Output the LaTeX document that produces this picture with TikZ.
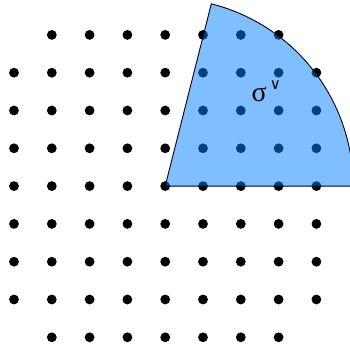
\documentclass[tikz,border=0pt]{standalone}
\usepackage{fontspec}
\setmainfont{Liberation Serif}
\newfontfamily\symfont{DejaVu Sans}
\definecolor{conefill}{RGB}{0,127,255}
\tikzset{
  latticept/.style={fill=black},
  cone/.style={fill=conefill, fill opacity=0.5, draw=black, line width=0.9pt, draw opacity=1},
  lbl/.style={inner sep=0pt, anchor=base west}
}
\begin{document}
\begin{tikzpicture}[x=1pt,y=1pt]
\useasboundingbox (0,0) rectangle (350,347);
\clip (0,0) rectangle (350,347);
\foreach \i in {0,...,8}{
  \foreach \j in {0,...,8}{
    \pgfmathtruncatemacro{\corner}{((\i==0)||(\i==8))&&((\j==0)||(\j==8)) ? 1 : 0}
    \ifnum\corner=0
      \fill[latticept] ({14+37.8*\i},{9.7+37.8*\j}) circle (4.9);
    \fi
  }
}
\coordinate (v) at (165.2,160.9);
\path[cone] (v) -- ++(0:188) arc[start angle=0, end angle=75.8, radius=188] -- cycle;
\node[lbl] (sig) at (251.5,245.3) {\fontsize{28}{30}\selectfont σ\hspace{3pt}\raisebox{12pt}{\symfont\fontsize{15}{15}\selectfont ∨}};
\end{tikzpicture}
\end{document}
